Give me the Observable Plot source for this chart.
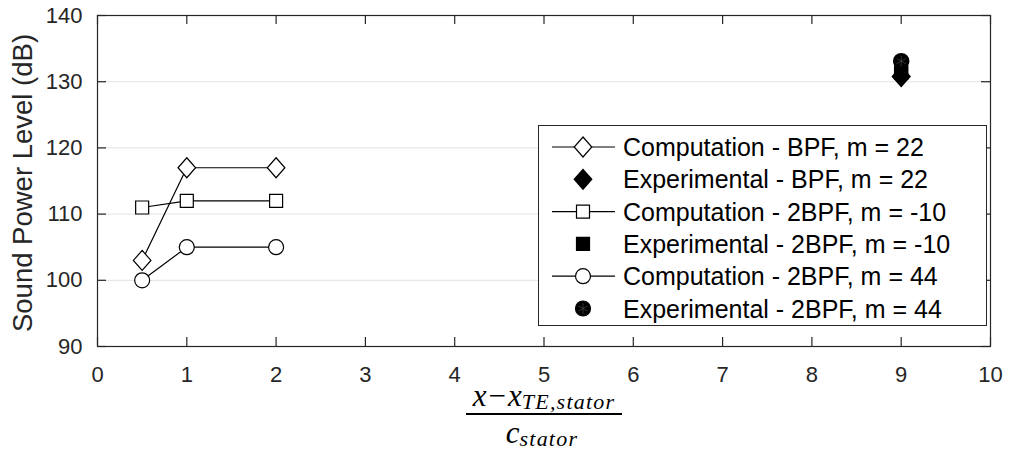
<!DOCTYPE html>
<html><head><meta charset="utf-8">
<script src="https://cdn.jsdelivr.net/npm/d3@7"></script>
<script src="https://cdn.jsdelivr.net/npm/@observablehq/plot@0.6"></script>
<style>body{margin:0;background:#fff;} #chart{width:1010px;height:454px;}</style>
</head><body><div id="chart"></div>
<script>
// ---- data ----
const xComp = [0.5, 1, 2];
const splCompBpf22 = [103, 117, 117];
const splComp2bpfM10 = [111, 112, 112];
const splComp2bpf44 = [100, 105, 105];
const xExp = [9];
const splExpBpf22 = [130.8];
const splExp2bpfM10 = [131.4];
const splExp2bpf44 = [133.1];
const xTicks = [0, 1, 2, 3, 4, 5, 6, 7, 8, 9, 10];
const yTicks = [90, 100, 110, 120, 130, 140];
const yGrid = [100, 110, 120, 130];
const legendLabels = [
  "Computation - BPF, m = 22",
  "Experimental - BPF, m = 22",
  "Computation - 2BPF, m = -10",
  "Experimental - 2BPF, m = -10",
  "Computation - 2BPF, m = 44",
  "Experimental - 2BPF, m = 44"
];
const yLabel = "Sound Power Level (dB)";

// ---- symbols ----
const diamondSym = {draw(c, s){const r=Math.sqrt(s/Math.PI), w=r*0.88; c.moveTo(0,-r); c.lineTo(w,0); c.lineTo(0,r); c.lineTo(-w,0); c.closePath();}};
const squareSym = {draw(c, s){const r=Math.sqrt(s/Math.PI); c.rect(-r,-r,2*r,2*r);}};
const circleSym = {draw(c, s){const r=Math.sqrt(s/Math.PI); c.moveTo(r,0); c.arc(0,0,r,0,2*Math.PI);}};

const mk = (xs, ys) => xs.map((x, i) => ({x, y: ys[i]}));
const c1 = mk(xComp, splCompBpf22), c2 = mk(xComp, splComp2bpfM10), c3 = mk(xComp, splComp2bpf44);
const e1 = mk(xExp, splExpBpf22), e2 = mk(xExp, splExp2bpfM10), e3 = mk(xExp, splExp2bpf44);

const ink = "#262626";
const W = 1010, H = 454, mL = 97, mR = 20, mT = 15, mB = 108;
const PW = W - mL - mR, PH = H - mT - mB;
const TS = 9;

const plot = Plot.plot({
  width: W, height: H, marginLeft: mL, marginRight: mR, marginTop: mT, marginBottom: mB,
  style: {fontFamily: "'Liberation Sans', Arial, sans-serif", fontSize: "22px", color: ink, background: "#fff"},
  x: {domain: [0, 10], label: null},
  y: {domain: [90, 140], label: null},
  marks: [
    Plot.ruleY(yGrid, {stroke: "#e3e3e3", strokeWidth: 1}),
    Plot.line(c1, {x: "x", y: "y", stroke: "#000", strokeWidth: 1.2}),
    Plot.dot(c1, {x: "x", y: "y", symbol: diamondSym, r: 10, fill: "#fff", stroke: "#000", strokeWidth: 1.2}),
    Plot.dot(e1, {x: "x", y: "y", symbol: diamondSym, r: 10, fill: "#000", stroke: "#000"}),
    Plot.line(c2, {x: "x", y: "y", stroke: "#000", strokeWidth: 1.2}),
    Plot.dot(c2, {x: "x", y: "y", symbol: squareSym, r: 6.5, fill: "#fff", stroke: "#000", strokeWidth: 1.2}),
    Plot.dot(e2, {x: "x", y: "y", symbol: squareSym, r: 6.5, fill: "#000", stroke: "#000"}),
    Plot.line(c3, {x: "x", y: "y", stroke: "#000", strokeWidth: 1.2}),
    Plot.dot(c3, {x: "x", y: "y", symbol: circleSym, r: 7.5, fill: "#fff", stroke: "#000", strokeWidth: 1.2}),
    Plot.dot(e3, {x: "x", y: "y", symbol: circleSym, r: 7.5, fill: "#000", stroke: "#000"}),
    Plot.dot(e3, {x: "x", y: "y", symbol: "asterisk", r: 5, stroke: "#555", strokeWidth: 0.6}),
    // inward tick marks on all four sides
    Plot.ruleX(xTicks, {x: d => d, insetTop: PH - TS, stroke: ink, strokeWidth: 1.2}),
    Plot.ruleX(xTicks, {x: d => d, insetBottom: PH - TS, stroke: ink, strokeWidth: 1.2}),
    Plot.ruleY(yTicks, {y: d => d, insetRight: PW - TS, stroke: ink, strokeWidth: 1.2}),
    Plot.ruleY(yTicks, {y: d => d, insetLeft: PW - TS, stroke: ink, strokeWidth: 1.2}),
    Plot.frame({stroke: ink, strokeWidth: 1.2}),
    Plot.axisX(xTicks, {anchor: "bottom", tickSize: 0, tickPadding: 20, label: null, fill: ink}),
    Plot.axisY(yTicks, {anchor: "left", tickSize: 0, tickPadding: 15, label: null, fill: ink})
  ]
});
document.getElementById("chart").appendChild(plot);

const svg = d3.select(plot);
// y label
svg.append("text")
  .attr("transform", "translate(32,183) rotate(-90)")
  .attr("text-anchor", "middle")
  .attr("font-family", "'Liberation Sans', Arial, sans-serif")
  .attr("font-size", 27.5).attr("fill", ink)
  .text(yLabel);

// x label (fraction)
const serif = "'Liberation Serif', 'DejaVu Serif', serif";
const num = svg.append("text").attr("x", 544).attr("y", 406).attr("text-anchor", "middle")
  .attr("font-family", serif).attr("font-size", 31).attr("fill", "#000");
num.append("tspan").attr("font-style", "italic").text("x");
num.append("tspan").attr("dx", 2).text("\u2212");
num.append("tspan").attr("dx", 2).attr("font-style", "italic").text("x");
num.append("tspan").attr("font-style", "italic").attr("font-size", 22).attr("dy", 3).attr("letter-spacing", 1.2).text("TE,stator");
svg.append("line").attr("x1", 466).attr("x2", 622).attr("y1", 414).attr("y2", 414)
  .attr("stroke", "#000").attr("stroke-width", 1.8);
const den = svg.append("text").attr("x", 542).attr("y", 443).attr("text-anchor", "middle")
  .attr("font-family", serif).attr("font-size", 31).attr("fill", "#000");
den.append("tspan").attr("font-style", "italic").text("c");
den.append("tspan").attr("font-style", "italic").attr("font-size", 22).attr("dy", 3).attr("letter-spacing", 1.2).text("stator");

// legend
const lg = svg.append("g");
lg.append("rect").attr("x", 538.5).attr("y", 125.5).attr("width", 448).attr("height", 200)
  .attr("fill", "#fff").attr("stroke", ink).attr("stroke-width", 1);
const syms = [diamondSym, diamondSym, squareSym, squareSym, circleSym, circleSym];
const rs = [10, 10, 6.5, 6.5, 7.5, 7.5];
legendLabels.forEach((lab, i) => {
  const cy = 147 + i * 32.3;
  const filled = i % 2 === 1;
  if (!filled) {
    lg.append("line").attr("x1", 552).attr("x2", 615).attr("y1", cy).attr("y2", cy)
      .attr("stroke", "#000").attr("stroke-width", 1.2);
  }
  lg.append("path").attr("transform", `translate(583,${cy})`)
    .attr("d", d3.symbol(syms[i], rs[i] * rs[i] * Math.PI)())
    .attr("fill", filled ? "#000" : "#fff").attr("stroke", "#000").attr("stroke-width", 1.2);
  if (i === 5) {
    lg.append("path").attr("transform", `translate(583,${cy})`)
      .attr("d", d3.symbol(d3.symbolAsterisk, 25 * Math.PI)())
      .attr("fill", "none").attr("stroke", "#555").attr("stroke-width", 0.6);
  }
  lg.append("text").attr("x", 623).attr("y", cy).attr("dy", "0.36em")
    .attr("text-anchor", "start")
    .attr("font-family", "'Liberation Sans', Arial, sans-serif")
    .attr("font-size", 25).attr("fill", "#000").text(lab);
});
</script></body></html>
